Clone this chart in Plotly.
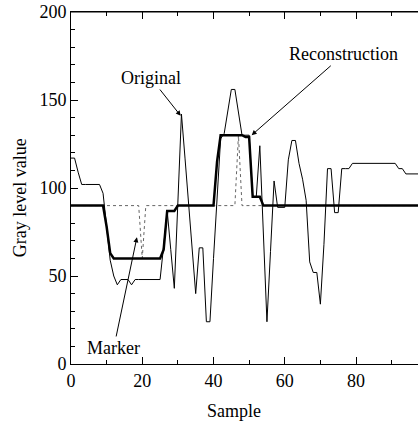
import plotly.graph_objects as go

samples = list(range(0, 101))

original = [117, 117, 109, 102, 102, 102, 102, 102, 102, 97,
            79, 59, 50, 45, 48, 48, 48, 45, 48, 48,
            48, 48, 48, 48, 48, 48, 67, 87, 65, 43,
            92, 142, 117, 91, 66, 40, 66, 66, 24, 24,
            60, 95, 128, 131, 143, 156, 156, 143, 130, 130,
            130, 95, 95, 124, 74, 24, 64, 104, 89, 89,
            89, 116, 127, 127, 114, 105, 93, 58, 52, 52,
            34, 68, 111, 111, 86, 86, 111, 111, 111, 114,
            114, 114, 114, 114, 114, 114, 114, 114, 114, 114,
            114, 114, 111, 111, 108, 108, 108, 108, 108, 108,
            108]

marker = [90] * 101
marker[20] = 60
marker[47] = 130

reconstruction = [90, 90, 90, 90, 90, 90, 90, 90, 90, 90,
                  78, 63, 60, 60, 60, 60, 60, 60, 60, 60,
                  60, 60, 60, 60, 60, 60, 65, 87, 87, 87,
                  90, 90, 90, 90, 90, 90, 90, 90, 90, 90,
                  90, 115, 130, 130, 130, 130, 130, 130, 130, 129,
                  129, 95, 95, 95, 90, 90, 90, 90, 90, 90,
                  90, 90, 90, 90, 90, 90, 90, 90, 90, 90,
                  90, 90, 90, 90, 90, 90, 90, 90, 90, 90,
                  90, 90, 90, 90, 90, 90, 90, 90, 90, 90,
                  90, 90, 90, 90, 90, 90, 90, 90, 90, 90,
                  90]

x_ticks = [0, 20, 40, 60, 80]
y_ticks = [0, 50, 100, 150, 200]

FONT = "Liberation Serif"
FS = 18

fig = go.Figure()
fig.add_trace(go.Scatter(x=samples, y=marker, mode="lines",
                         line=dict(color="#666666", width=1, dash="dot"),
                         name="Marker"))
fig.add_trace(go.Scatter(x=samples, y=original, mode="lines",
                         line=dict(color="black", width=1),
                         name="Original"))
fig.add_trace(go.Scatter(x=samples, y=reconstruction, mode="lines",
                         line=dict(color="black", width=2.5),
                         name="Reconstruction"))

fig.update_layout(
    width=418, height=424,
    margin=dict(l=71, r=0, t=12, b=60),
    paper_bgcolor="white", plot_bgcolor="white",
    showlegend=False,
    font=dict(family=FONT, size=FS, color="black"),
    xaxis=dict(range=[0, 97.4], tickvals=x_ticks, ticks="inside", ticklen=7,
               tickcolor="black", showline=True, linecolor="black", linewidth=1,
               mirror="ticks", showgrid=False, zeroline=False,
               minor=dict(dtick=10, tick0=0, ticks="inside", ticklen=4, tickcolor="black"),
               tickfont=dict(family=FONT, size=FS)),
    yaxis=dict(range=[0, 200], tickvals=y_ticks, ticks="inside", ticklen=7,
               tickcolor="black", showline=True, linecolor="black", linewidth=1,
               showgrid=False, zeroline=False, ticklabeloverflow="allow",
               minor=dict(dtick=10, tick0=0, ticks="inside", ticklen=4, tickcolor="black"),
               tickfont=dict(family=FONT, size=FS)),
    shapes=[dict(type="line", xref="paper", yref="paper", x0=0, x1=1, y0=1, y1=1,
                 line=dict(color="black", width=1.2), layer="above")],
)

annos = [
    dict(x=-0.147, y=0.474, xref="paper", yref="paper", text="Gray level value",
         xanchor="center", yanchor="middle",
         showarrow=False, textangle=-90, font=dict(family=FONT, size=FS)),
    dict(x=0.47, y=-0.134, xref="paper", yref="paper", text="Sample",
         xanchor="center", yanchor="middle",
         showarrow=False, font=dict(family=FONT, size=FS)),
    dict(x=30.8, y=141, ax=22.4, ay=162.5, axref="x", ayref="y", xref="x", yref="y",
         text="Original", showarrow=True, arrowhead=2, arrowsize=1, arrowwidth=1,
         arrowcolor="black", font=dict(family=FONT, size=FS)),
    dict(x=50.7, y=130, ax=76.6, ay=176, axref="x", ayref="y", xref="x", yref="y",
         text="Reconstruction", showarrow=True, arrowhead=2, arrowsize=1, arrowwidth=1,
         arrowcolor="black", font=dict(family=FONT, size=FS)),
    dict(x=18.5, y=72, ax=12.0, ay=9.1, axref="x", ayref="y", xref="x", yref="y",
         text="Marker", showarrow=True, arrowhead=2, arrowsize=1, arrowwidth=1,
         arrowcolor="black", font=dict(family=FONT, size=FS)),
]
fig.update_layout(annotations=annos)

fig.write_html("out.html", config={"displayModeBar": False},
               post_script="document.body.style.margin='0';document.body.style.overflow='hidden';")
